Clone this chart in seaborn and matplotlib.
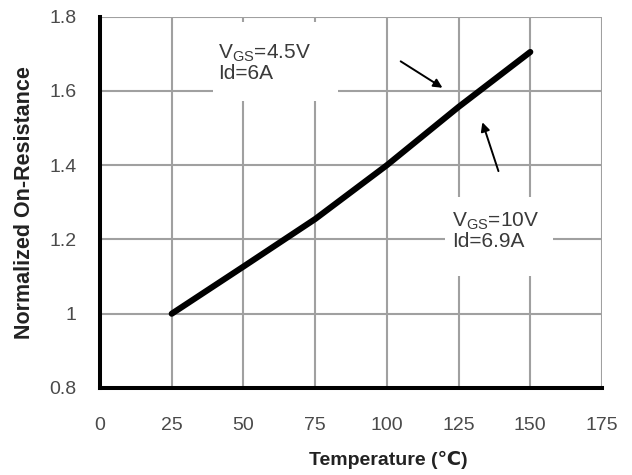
import matplotlib
matplotlib.use("Agg")
import matplotlib.pyplot as plt
from matplotlib.patches import Rectangle
import seaborn as sns
import pandas as pd

temperature = [25, 50, 75, 100, 125, 150]
norm_rds = [1.00, 1.127, 1.255, 1.40, 1.557, 1.705]
x_ticks = [0, 25, 50, 75, 100, 125, 150, 175]
y_ticks = [0.8, 1.0, 1.2, 1.4, 1.6, 1.8]
y_tick_labels = ["0.8", "1", "1.2", "1.4", "1.6", "1.8"]
label_45 = "V$_{\\mathregular{GS}}$=4.5V\nId=6A"
label_10 = "V$_{\\mathregular{GS}}$=10V\nId=6.9A"

sns.set_theme(style="white")
plt.rcParams['font.family'] = ['Liberation Sans', 'DejaVu Sans']

df = pd.DataFrame({"Temperature": temperature, "R": norm_rds})

fig = plt.figure(figsize=(6.32, 4.75), dpi=100)
ax = fig.add_axes([100 / 632, 1 - 388 / 475, 502 / 632, 371.3 / 475])

ax.set_xlim(0, 175)
ax.set_ylim(0.8, 1.8)
ax.set_xticks(x_ticks)
ax.set_yticks(y_ticks)
ax.set_yticklabels(y_tick_labels)
ax.grid(True, color="#a0a0a0", linewidth=1.5)
ax.set_axisbelow(True)

# white label backgrounds masking grid
ax.add_patch(Rectangle((39.4, 1.573), 43.6, 0.213, facecolor="white", edgecolor="none", zorder=1.5))
ax.add_patch(Rectangle((120.3, 1.1007), 37.6, 0.2128, facecolor="white", edgecolor="none", zorder=1.5))

sns.lineplot(data=df, x="Temperature", y="R", ax=ax, color="black", linewidth=4.4, zorder=3)

for s in ["top", "right"]:
    ax.spines[s].set_visible(False)
for s in ["left", "bottom"]:
    ax.spines[s].set_color("black")
    ax.spines[s].set_linewidth(2.9)

ax.tick_params(axis="both", colors="#4a4a4a", labelsize=14, length=0)
ax.tick_params(axis="y", pad=17)
ax.tick_params(axis="x", pad=21)
ax.set_xlabel("Temperature (\u2103)", fontsize=14, fontweight="bold", color="#222222", labelpad=8)
ax.xaxis.set_label_coords(0.575, -0.17)
ax.set_ylabel("Normalized On-Resistance", fontsize=15.5, fontweight="bold", color="#222222", labelpad=10)

ax.text(41.1, 1.676, label_45, fontsize=15, color="#3a3a3a",
        ha="left", va="center", zorder=4, linespacing=1.0)
ax.text(122.6, 1.2235, label_10, fontsize=15, color="#3a3a3a",
        ha="left", va="center", zorder=4, linespacing=1.0)

ax.annotate("", xy=(120.2, 1.6046), xytext=(104, 1.6838),
            arrowprops=dict(arrowstyle="-|>", color="black", lw=1.4, mutation_scale=13), zorder=5)
ax.annotate("", xy=(133.0, 1.5228), xytext=(139.2, 1.377),
            arrowprops=dict(arrowstyle="-|>", color="black", lw=1.4, mutation_scale=13), zorder=5)

fig.savefig("out.png", dpi=100)
